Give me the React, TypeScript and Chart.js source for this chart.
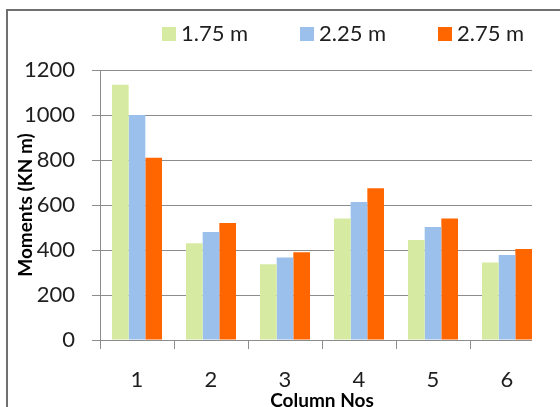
import React, { useEffect, useRef } from "react";
import { Chart, registerables } from "chart.js";

Chart.register(...registerables);

// Bending moments per column for three column spacings
const columnLabels = ["1", "2", "3", "4", "5", "6"];
const spacingLabels = ["1.75 m", "2.25 m", "2.75 m"];
const moments175 = [1135, 430, 337, 540, 445, 345];
const moments225 = [1000, 480, 367, 613, 502, 378];
const moments275 = [810, 520, 390, 675, 540, 405];
const seriesColors = ["#d7eaa1", "#9bc0ec", "#ff6600"];
const yMax = 1200;
const yStep = 200;

const textColor = "#1e1e1e";
const lineGray = "#8c8c8c";
const fontFamily = "Lato, 'Open Sans', sans-serif";

// Legend drawn in one row above the plot with wide spacing between entries
const wideLegend = {
  id: "wideLegend",
  afterDraw(chart: any) {
    const { ctx, chartArea } = chart;
    const box = 14;
    const gap = 5;
    const pitch = 138;
    const baseline = chartArea.top - 29;
    let x = chartArea.left + 62;
    ctx.save();
    ctx.font = `22px ${fontFamily}`;
    ctx.textBaseline = "alphabetic";
    ctx.textAlign = "left";
    chart.data.datasets.forEach((ds: any) => {
      ctx.fillStyle = ds.backgroundColor;
      ctx.fillRect(x, baseline - box, box, box);
      ctx.fillStyle = textColor;
      ctx.fillText(ds.label, x + box + gap, baseline);
      x += pitch;
    });
    ctx.restore();
  },
};

function MomentsChart() {
  const canvasRef = useRef<HTMLCanvasElement | null>(null);

  useEffect(() => {
    const canvas = canvasRef.current;
    if (!canvas) return;
    const values = [moments175, moments225, moments275];
    const chart = new Chart(canvas, {
      type: "bar",
      data: {
        labels: columnLabels,
        datasets: spacingLabels.map((label, i) => ({
          label,
          data: values[i],
          backgroundColor: seriesColors[i],
          borderWidth: 0,
          barPercentage: 1,
          categoryPercentage: 0.676,
        })),
      },
      options: {
        responsive: false,
        animation: false,
        devicePixelRatio: 1,
        layout: { padding: { top: 70, left: 0, right: 0, bottom: 0 } },
        plugins: {
          legend: { display: false },
          tooltip: { enabled: false },
        },
        scales: {
          x: {
            offset: true,
            grid: {
              display: true,
              drawOnChartArea: false,
              drawTicks: true,
              tickLength: 9,
              color: lineGray,
              offset: true,
            },
            border: { display: true, color: lineGray, width: 1 },
            ticks: {
              font: { family: fontFamily, size: 22 },
              color: textColor,
              padding: 18,
            },
            title: {
              display: true,
              text: "Column Nos",
              font: { family: fontFamily, size: 19, weight: "bold" },
              color: "#000",
              padding: { top: 0, bottom: 8 },
            },
            afterFit: (scale: any) => {
              scale.height = 80;
            },
          },
          y: {
            min: 0,
            max: yMax,
            ticks: {
              stepSize: yStep,
              font: { family: fontFamily, size: 22 },
              color: textColor,
              padding: 17,
              callback: (value: any) => String(value),
            },
            grid: { color: lineGray, tickLength: 8, drawTicks: true },
            border: { display: true, color: lineGray, width: 1 },
            title: {
              display: true,
              text: "Moments (KN m)",
              font: { family: fontFamily, size: 19, weight: "bold" },
              color: "#000",
              padding: { top: 14.6, bottom: 0 },
            },
            afterFit: (scale: any) => {
              scale.width = 100;
            },
          },
        },
      },
      plugins: [wideLegend],
    });
    return () => chart.destroy();
  }, []);

  return (
    <canvas
      ref={canvasRef}
      width={544}
      height={420}
      style={{ display: "block", position: "absolute", left: 0, top: 0 }}
    />
  );
}

export default function App() {
  return (
    <div
      style={{
        position: "fixed",
        left: 0,
        top: 0,
        width: 560,
        height: 407,
        overflow: "hidden",
        background: "#fff",
      }}
    >
      <div
        style={{
          position: "absolute",
          left: 6,
          top: 9,
          width: 640,
          height: 480,
          borderTop: "2px solid #707070",
          borderLeft: "2px solid #707070",
        }}
      />
      <div
        style={{
          position: "absolute",
          left: 0,
          top: 0,
          width: 532,
          height: 407,
          overflow: "hidden",
        }}
      >
        <MomentsChart />
      </div>
    </div>
  );
}
